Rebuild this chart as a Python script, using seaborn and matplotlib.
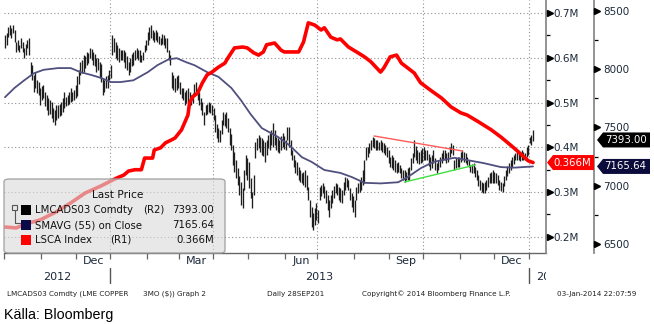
import numpy as np
import pandas as pd
import matplotlib
matplotlib.use("Agg")
import matplotlib.pyplot as plt
import seaborn as sns
from matplotlib.patches import Polygon, FancyBboxPatch, Rectangle
from matplotlib.lines import Line2D
from matplotlib.transforms import Bbox, TransformedBbox, blended_transform_factory
from matplotlib.ticker import FixedLocator, FixedFormatter, NullFormatter, FuncFormatter

# ---------------------------------------------------------------- data
# trading sessions shown on the chart (one bar per session)
sessions = pd.bdate_range("2012-10-01", "2014-01-03")

# LMCADS03 Comdty, daily high / low (USD/t)
copper_high = [
    8295, 8310, 8360, 8380, 8355, 8380, 8335, 8235, 8250, 8210,
    8270, 8235, 8180, 8215, 8250, 8270, 8060, 8035, 7950, 7975,
    7905, 7890, 7840, 7855, 7865, 7805, 7780, 7755, 7735, 7720,
    7665, 7650, 7695, 7695, 7700, 7720, 7755, 7805, 7760, 7780,
    7805, 7840, 7805, 7820, 7865, 7940, 7995, 8060, 8080, 8120,
    8115, 8150, 8140, 8180, 8175, 8150, 8130, 8095, 8095, 8060,
    8045, 7925, 7905, 7940, 7950, 7995, 8035, 8295, 8270, 8235,
    8210, 8180, 8165, 8165, 8165, 8150, 8115, 8060, 8095, 8130,
    8150, 8165, 8180, 8165, 8165, 8120, 8150, 8210, 8250, 8320,
    8360, 8380, 8335, 8320, 8335, 8320, 8285, 8270, 8300, 8295,
    8270, 8270, 8165, 8120, 7975, 7950, 7925, 7940, 7950, 7890,
    7840, 7840, 7805, 7820, 7840, 7805, 7780, 7795, 7875, 7890,
    7840, 7805, 7755, 7720, 7635, 7695, 7700, 7720, 7710, 7695,
    7665, 7605, 7530, 7495, 7480, 7565, 7635, 7615, 7635, 7580,
    7495, 7445, 7350, 7290, 7220, 7150, 7085, 7030, 6980, 7135,
    7265, 7240, 7205, 7065, 6945, 7090, 7375, 7410, 7435, 7420,
    7410, 7390, 7375, 7390, 7435, 7450, 7480, 7540, 7480, 7420,
    7410, 7390, 7425, 7450, 7425, 7390, 7505, 7505, 7390, 7305,
    7265, 7220, 7205, 7160, 7135, 7110, 7120, 7135, 7090, 6990,
    6875, 6815, 6765, 6810, 6850, 6790, 6990, 7005, 7025, 7000,
    6965, 6920, 6875, 6920, 6965, 7000, 7025, 7015, 6990, 6980,
    6965, 7030, 7075, 7065, 7050, 6980, 6935, 6910, 6875, 6990,
    7025, 7050, 7075, 7135, 7220, 7330, 7330, 7365, 7390, 7420,
    7410, 7390, 7390, 7375, 7390, 7375, 7365, 7350, 7330, 7305,
    7245, 7265, 7245, 7220, 7195, 7205, 7180, 7150, 7135, 7135,
    7120, 7150, 7160, 7240, 7280, 7390, 7340, 7305, 7290, 7305,
    7325, 7330, 7305, 7305, 7270, 7245, 7265, 7305, 7240, 7195,
    7220, 7245, 7280, 7305, 7305, 7280, 7290, 7330, 7365, 7350,
    7220, 7240, 7245, 7245, 7290, 7305, 7290, 7280, 7245, 7220,
    7180, 7185, 7195, 7160, 7135, 7090, 7050, 7030, 7025, 7030,
    7050, 7075, 7110, 7120, 7135, 7120, 7110, 7090, 7050, 7030,
    7025, 7085, 7135, 7170, 7195, 7220, 7245, 7265, 7280, 7290,
    7280, 7290, 7305, 7290, 7280, 7330, 7350, 7420, 7435, 7480,
]
copper_low = [
    8180, 8210, 8275, 8295, 8270, 8310, 8235, 8150, 8165, 8150,
    8180, 8150, 8095, 8120, 8180, 8120, 7950, 7905, 7805, 7840,
    7795, 7780, 7695, 7735, 7755, 7685, 7650, 7605, 7615, 7580,
    7545, 7520, 7565, 7580, 7600, 7605, 7635, 7665, 7685, 7695,
    7700, 7720, 7725, 7735, 7755, 7770, 7875, 7950, 7965, 7975,
    8010, 8035, 8055, 8095, 8080, 8035, 8025, 7975, 7995, 7925,
    7890, 7780, 7805, 7840, 7840, 7905, 7925, 8120, 8150, 8095,
    8080, 8060, 8080, 8080, 8060, 8010, 7995, 7950, 7975, 8025,
    8035, 8080, 8095, 8080, 8060, 8060, 8080, 8150, 8165, 8210,
    8250, 8270, 8250, 8235, 8250, 8235, 8215, 8210, 8215, 8210,
    8180, 8150, 8080, 8035, 7840, 7820, 7805, 7820, 7840, 7785,
    7755, 7735, 7695, 7710, 7720, 7700, 7695, 7710, 7785, 7805,
    7735, 7695, 7650, 7605, 7520, 7605, 7615, 7635, 7625, 7605,
    7565, 7460, 7410, 7375, 7375, 7445, 7520, 7510, 7495, 7460,
    7350, 7305, 7180, 7120, 7065, 7005, 6920, 6835, 6810, 6965,
    7090, 7050, 6980, 6895, 6810, 6920, 7240, 7305, 7325, 7290,
    7265, 7255, 7205, 7265, 7325, 7305, 7350, 7330, 7350, 7305,
    7290, 7280, 7305, 7330, 7315, 7305, 7390, 7330, 7265, 7220,
    7160, 7110, 7090, 7050, 7030, 7025, 7005, 6990, 6965, 6875,
    6730, 6645, 6620, 6665, 6705, 6680, 6875, 6910, 6935, 6895,
    6850, 6790, 6730, 6810, 6850, 6895, 6935, 6920, 6875, 6860,
    6850, 6920, 6965, 6990, 6965, 6875, 6815, 6775, 6730, 6875,
    6935, 6945, 6965, 7005, 7025, 7220, 7245, 7280, 7305, 7330,
    7325, 7305, 7305, 7305, 7305, 7290, 7280, 7265, 7245, 7195,
    7160, 7150, 7135, 7120, 7110, 7120, 7110, 7065, 7050, 7030,
    7050, 7050, 7050, 7135, 7195, 7245, 7220, 7195, 7185, 7195,
    7205, 7220, 7220, 7220, 7170, 7135, 7150, 7195, 7135, 7110,
    7135, 7160, 7195, 7220, 7220, 7195, 7205, 7245, 7280, 7265,
    7135, 7150, 7160, 7160, 7205, 7220, 7205, 7195, 7180, 7160,
    7120, 7110, 7110, 7075, 7050, 6995, 6965, 6945, 6935, 6935,
    6965, 6990, 7025, 7025, 7025, 7025, 7025, 7005, 6965, 6955,
    6945, 6995, 7050, 7085, 7110, 7135, 7160, 7185, 7220, 7220,
    7220, 7210, 7220, 7220, 7220, 7245, 7265, 7365, 7350, 7380,
]
copper_last = 7393.00

# SMAVG (55) on Close, by session number
sma_session = [0, 6, 12, 18, 24, 33, 41, 47, 54, 60, 66, 72, 80, 89, 95,
               102, 107, 113, 118, 126, 133, 141, 147, 153, 160, 166, 170,
               177, 185, 191, 199, 209, 216, 224, 234, 245, 251, 259, 267,
               280, 288, 298, 309, 317, 329]
sma_value = [7760, 7840, 7905, 7965, 7995, 8010, 8010, 7975, 7950, 7925,
             7890, 7890, 7905, 7975, 8035, 8085, 8095, 8060, 8035, 7975,
             7935, 7840, 7735, 7615, 7495, 7450, 7420, 7350, 7245, 7205,
             7135, 7110, 7075, 7025, 7020, 7030, 7075, 7150, 7205, 7240,
             7220, 7195, 7160, 7155, 7165.64]

# LSCA Index (LME copper stocks, million t), by session number
lsca_session = [0, 7, 13, 22, 32, 41, 50, 60, 66, 70, 74, 77, 81, 85, 87,
                92, 93, 97, 100, 104, 106, 110, 114, 115, 117, 120, 123,
                126, 129, 133, 137, 139, 143, 148, 151, 155, 158, 161, 163,
                168, 172, 174, 178, 183, 186, 189, 193, 197, 199, 203, 207,
                209, 214, 220, 224, 228, 234, 236, 240, 244, 247, 251, 255,
                259, 265, 272, 278, 284, 288, 295, 303, 309, 317, 322, 326,
                329]
lsca_value = [0.222, 0.220, 0.229, 0.238, 0.256, 0.276, 0.298, 0.314,
              0.325, 0.332, 0.338, 0.347, 0.350, 0.350, 0.376, 0.376,
              0.394, 0.399, 0.410, 0.417, 0.421, 0.439, 0.472, 0.499,
              0.513, 0.521, 0.544, 0.562, 0.568, 0.579, 0.588, 0.600,
              0.622, 0.624, 0.622, 0.611, 0.606, 0.613, 0.629, 0.633,
              0.617, 0.613, 0.613, 0.613, 0.635, 0.678, 0.673, 0.662,
              0.667, 0.646, 0.640, 0.642, 0.624, 0.611, 0.602, 0.591,
              0.568, 0.577, 0.602, 0.606, 0.588, 0.577, 0.566, 0.544,
              0.528, 0.510, 0.490, 0.477, 0.472, 0.457, 0.439, 0.423,
              0.399, 0.383, 0.370, 0.366]

# hand-drawn trend lines
resistance_session = [230, 285]
resistance_value = [7427, 7298]
support_session = [249, 293]
support_value = [7032, 7178]

r1_ticks = [0.2, 0.3, 0.4, 0.5, 0.6, 0.7]
r1_minor = [0.25, 0.35, 0.45, 0.55, 0.65]
r2_ticks = [6500, 7000, 7500, 8000, 8500]
r2_minor = [6750, 7250, 7750, 8250]
month_labels = {(2012, 12): "Dec", (2013, 3): "Mar", (2013, 6): "Jun",
                (2013, 9): "Sep", (2013, 12): "Dec"}

# ---------------------------------------------------------------- style
sns.set_style("white")
plt.rcParams["font.family"] = ["DejaVu Sans"]
LABEL = "#1c2a3a"
GRID = "#8f8f8f"
SPINE = "#8a8a8a"

W, H = 654, 324
fig = plt.figure(figsize=(W / 100, H / 100), dpi=100)


def fx(px):
    return px / W


def fy(py):
    return 1 - py / H


L, R, T, B = 4, 546, 0, 253
ax = fig.add_axes([fx(L), fy(B), fx(R) - fx(L), fy(T) - fy(B)])
day_px = 1.605
x0 = -0.6
x1 = x0 + (R - L) / day_px
ax.set_xlim(x0, x1)
ax.set_ylim(6422.6, 8594.4)
ax2 = ax.twinx()
ax2.set_ylim(0.164, 0.729)
ax2.set_xlim(x0, x1)

n = len(copper_high)
sess = np.arange(n)
months = pd.Series(sessions.to_period("M"))
starts = np.flatnonzero(months.ne(months.shift()).to_numpy())

# grid: quarter boundaries and R1 levels
for s in starts:
    if s > 0 and sessions[s].month in (1, 4, 7, 10):
        ax.axvline(s - 0.5, color=GRID, lw=0.8, dashes=(1, 2.2), zorder=0.5)
for v in r1_ticks:
    ax.add_line(Line2D([0, 1], [v, v], transform=ax2.get_yaxis_transform(),
                       color=GRID, lw=0.8, dashes=(1, 2.2), zorder=0.5))

# price bars
ax.vlines(sess, copper_low, copper_high, colors="#1e1e1e", lw=0.95, zorder=2)

# moving average and trend lines
sns.lineplot(x=sma_session, y=sma_value, ax=ax, color="#50507e", lw=1.3,
             zorder=3)
sns.lineplot(x=resistance_session, y=resistance_value, ax=ax,
             color="#ff5a5a", lw=1.0, zorder=3)
sns.lineplot(x=support_session, y=support_value, ax=ax,
             color="#3ee03e", lw=1.0, zorder=3)

# stocks on the R1 scale
sns.lineplot(x=lsca_session, y=lsca_value, ax=ax2, color="#ff0000", lw=2.6,
             zorder=4)

for a in (ax, ax2):
    a.set_xlabel("")
    a.set_ylabel("")
ax.set_xlim(x0, x1)
ax.set_ylim(6422.6, 8594.4)
ax2.set_ylim(0.164, 0.729)

# spines
for sp in ("top", "left"):
    ax.spines[sp].set_visible(False)
for sp in ("top", "left", "bottom"):
    ax2.spines[sp].set_visible(False)
r2_pos = (594 - L) / (R - L)
ax.spines["right"].set_position(("axes", r2_pos))
ax.spines["right"].set_color(SPINE)
ax.spines["right"].set_linewidth(1.3)
ax2.spines["right"].set_color(SPINE)
ax2.spines["right"].set_linewidth(1.3)
ax.spines["bottom"].set_color("#666666")
ax.spines["bottom"].set_linewidth(1.0)

# R2 axis (price)
ax.yaxis.tick_right()
ax.yaxis.set_major_locator(FixedLocator(r2_ticks))
ax.yaxis.set_minor_locator(FixedLocator(r2_minor))
ax.yaxis.set_major_formatter(FuncFormatter(lambda v, p: f"{v:.0f}"))
ax.yaxis.set_minor_formatter(NullFormatter())
ax.tick_params(axis="y", which="both", left=False, labelleft=False,
               right=True, labelright=True)
ax.tick_params(axis="y", which="major", length=0, pad=6.5, labelsize=7.5,
               labelcolor=LABEL)
ax.tick_params(axis="y", which="minor", length=3, width=0.9, color="black",
               direction="out")

# R1 axis (stocks)
ax2.yaxis.set_major_locator(FixedLocator(r1_ticks))
ax2.yaxis.set_minor_locator(FixedLocator(r1_minor))
ax2.yaxis.set_major_formatter(FuncFormatter(lambda v, p: f"{v:.1f}M"))
ax2.yaxis.set_minor_formatter(NullFormatter())
ax2.tick_params(axis="y", which="major", length=0, pad=5, labelsize=7.5,
                labelcolor=LABEL)
ax2.tick_params(axis="y", which="minor", length=3, width=0.9, color="black",
                direction="out")

# arrow-head markers at the labelled levels
ax.plot([r2_pos + 3.5 / (R - L)] * len(r2_ticks), r2_ticks,
        transform=ax.get_yaxis_transform(), marker=">", ms=4, color="black",
        ls="none", clip_on=False, zorder=6)
ax2.plot([1 + 3.5 / (R - L)] * len(r1_ticks), r1_ticks,
         transform=ax2.get_yaxis_transform(), marker=">", ms=4,
         color="black", ls="none", clip_on=False, zorder=6)

# time axis
mid_pos, mid_lab = [], []
for (yr, mo), lab in month_labels.items():
    idx = np.flatnonzero((sessions.year == yr) & (sessions.month == mo))
    mid_pos.append(idx.mean())
    mid_lab.append(lab)
ax.xaxis.set_major_locator(FixedLocator(starts - 0.5))
ax.xaxis.set_major_formatter(NullFormatter())
ax.xaxis.set_minor_locator(FixedLocator(mid_pos))
ax.xaxis.set_minor_formatter(FixedFormatter(mid_lab))
ax.tick_params(axis="x", which="major", bottom=True, length=4, width=0.9,
               color="#666666", direction="out")
ax.tick_params(axis="x", which="minor", bottom=True, length=0, pad=2.5,
               labelsize=8, labelcolor=LABEL)

trans = blended_transform_factory(ax.transData, ax.transAxes)
clip = TransformedBbox(Bbox([[0, -1], [1, 1]]), ax.transAxes)
years = sorted(set(sessions.year))
year_y = -(277 - B) / (B - T)
for k, yr in enumerate(years):
    idx = np.flatnonzero(sessions.year == yr)
    lo = x0 if k == 0 else idx.min() - 0.5
    if k == len(years) - 1:
        # partial year at the right edge: label starts just after the break
        t = fig.text(lo + 7 / day_px, year_y, str(yr), transform=trans,
                     ha="left", va="center", fontsize=8, color=LABEL)
    else:
        hi = idx.max() + 0.5
        t = fig.text((lo + hi) / 2, year_y, str(yr), transform=trans,
                     ha="center", va="center", fontsize=8, color=LABEL)
    t.set_clip_box(clip)
    t.set_clip_on(True)
    if idx.min() > 0:
        ax.plot([idx.min() - 0.5] * 2, [-(268 - B) / (B - T),
                                        -(283 - B) / (B - T)],
                transform=trans, clip_on=False, color="#555555", lw=1.0)

# ---------------------------------------------------------------- legend
LEG_FS = 7.3
box = FancyBboxPatch((fx(4), fy(253)), fx(225) - fx(4), fy(179) - fy(253),
                     boxstyle="round,pad=0,rounding_size=0.008",
                     transform=fig.transFigure, fc=(0.86, 0.86, 0.86, 0.62),
                     ec="#a0a0a0", lw=0.9, zorder=10)
fig.add_artist(box)
fig.text(fx(118), fy(195), "Last Price", ha="center", va="center",
         fontsize=LEG_FS + 0.3, color="#111111", zorder=11)
rows = [
    ("black", "LMCADS03 Comdty", "(R2)", f"{copper_last:.2f}", 210),
    ("#0a0a48", "SMAVG (55) on Close", "", f"{sma_value[-1]:.2f}", 225),
    ("#ff0000", "LSCA Index", "(R1)", f"{lsca_value[-1]:.3f}M", 240),
]
for col, name, side, val, yy in rows:
    fig.add_artist(Rectangle((fx(21), fy(yy + 5)), fx(10), 10 / H,
                             transform=fig.transFigure, fc=col, ec="none",
                             zorder=11))
    fig.text(fx(35), fy(yy), name, ha="left", va="center", fontsize=LEG_FS,
             color="#111111", zorder=11)
    if side:
        x_side = 143 if side == "(R2)" else 110
        fig.text(fx(x_side), fy(yy), side, ha="left", va="center",
                 fontsize=LEG_FS, color="#111111", zorder=11)
    fig.text(fx(214), fy(yy), val, ha="right", va="center", fontsize=LEG_FS,
             color="#111111", zorder=11)
# small tree icon beside the first two rows
fig.add_artist(Rectangle((fx(12), fy(210)), fx(5), 5 / H,
                         transform=fig.transFigure, fc="#e8e8e8",
                         ec="#555555", lw=0.8, zorder=11))
fig.add_artist(Line2D([fx(14.5), fx(14.5), fx(20)], [fy(210), fy(223),
                                                     fy(223)],
                      transform=fig.transFigure, color="#555555", lw=0.8,
                      zorder=11))

# ---------------------------------------------------------------- value tags


def to_py(axis, v):
    return H - axis.transData.transform((0, v))[1]


def tag(x_tip, x_right, yc, color, text):
    hh = 7.5
    pts = [(x_tip, yc), (x_tip + 6, yc - hh), (x_right, yc - hh),
           (x_right, yc + hh), (x_tip + 6, yc + hh)]
    fig.add_artist(Polygon([(fx(px), fy(py)) for px, py in pts],
                           closed=True, transform=fig.transFigure, fc=color,
                           ec="none", zorder=12))
    fig.text(fx((x_tip + 4 + x_right) / 2), fy(yc), text, ha="center",
             va="center", fontsize=7.3, color="white", zorder=13)


tag(547, 594, to_py(ax2, lsca_value[-1]), "#ff0000", f"{lsca_value[-1]:.3f}M")
tag(597, 650, to_py(ax, copper_last), "#000000", f"{copper_last:.2f}")
tag(597, 650, to_py(ax, sma_value[-1]), "#0c0c3c", f"{sma_value[-1]:.2f}")

# ---------------------------------------------------------------- footer
foot = [(7, "LMCADS03 Comdty (LME COPPER"), (143, "3MO ($)) Graph 2"),
        (267, "Daily 28SEP201"),
        (362, "Copyright\u00a9 2014 Bloomberg Finance L.P."),
        (557, "03-Jan-2014 22:07:59")]
for px, s in foot:
    fig.text(fx(px), fy(294), s, ha="left", va="center", fontsize=5.2,
             color="#202020")
fig.text(fx(4), fy(315), "Källa: Bloomberg", ha="left", va="center",
         fontsize=10.3, family=["Liberation Sans", "DejaVu Sans"],
         color="black")

fig.savefig("out.png", dpi=100)
